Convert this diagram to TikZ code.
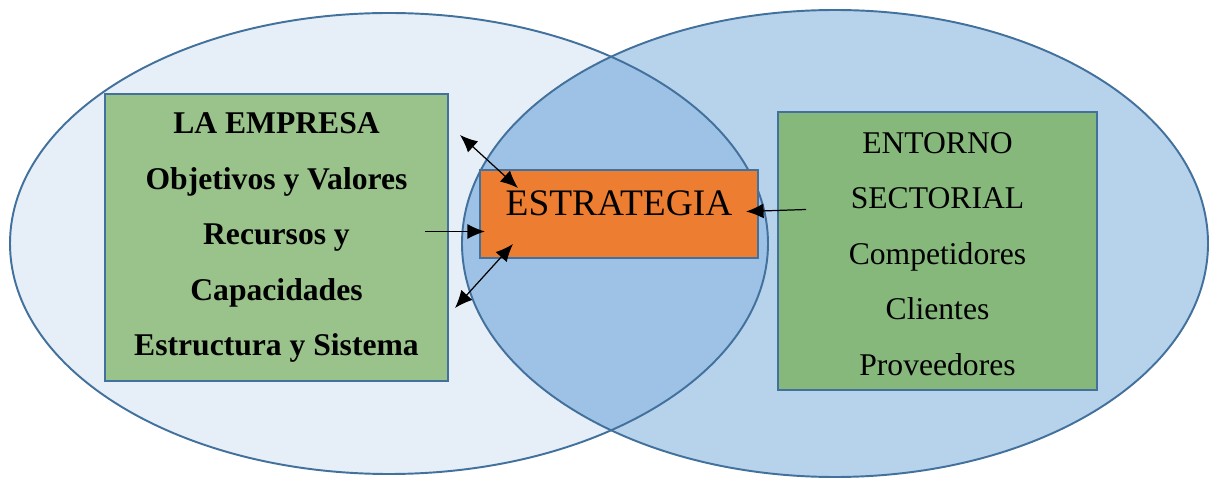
\documentclass[tikz,border=0pt]{standalone}
\usepackage{fontspec}
\setmainfont{Liberation Serif}
\usepackage{xcolor}
\usepackage{tikz}
\usetikzlibrary{arrows.meta}

\definecolor{elipseA}{HTML}{E6EEF7}
\definecolor{elipseB}{HTML}{B7D2EB}
\definecolor{cruce}{HTML}{9DC2E5}
\definecolor{borde}{HTML}{41719C}
\definecolor{verdeA}{HTML}{9AC38B}
\definecolor{verdeB}{HTML}{86B77B}
\definecolor{naranja}{HTML}{ED7D31}

\begin{document}
\begin{tikzpicture}[x=0.02cm,y=-0.02cm,
    caja/.style={draw=borde,line width=1pt,inner sep=0pt},
    texto/.style={font=\fontsize{18}{31.6}\selectfont,align=center,inner sep=0pt},
    flecha/.style={line width=0.7pt,-{Latex[length=10pt,width=8.5pt]}},
    doble/.style={line width=0.7pt,{Latex[length=10pt,width=8.5pt]}-{Latex[length=10pt,width=8.5pt]}}]
    \fill[white] (0,0) rectangle (1214,479);
    \useasboundingbox (0,0) rectangle (1214,479);
    % los dos ovalos
    \fill[elipseA] (389,243.5) ellipse [x radius=379, y radius=230.5];
    \fill[elipseB] (835,243.5) ellipse [x radius=373, y radius=233.5];
    \begin{scope}
      \clip (389,243.5) ellipse [x radius=379, y radius=230.5];
      \fill[cruce] (835,243.5) ellipse [x radius=373, y radius=233.5];
    \end{scope}
    \draw[borde,line width=1.1pt] (389,243.5) ellipse [x radius=379, y radius=230.5];
    \draw[borde,line width=1.1pt] (835,243.5) ellipse [x radius=373, y radius=233.5];
    % cajas
    \node[caja,fill=verdeA,minimum width=6.86cm,minimum height=5.74cm,
      texto,font=\fontsize{18}{31.6}\selectfont\bfseries]
      (empresa) at (276.5,237.5)
      {LA EMPRESA\\Objetivos y Valores\\Recursos y\\Capacidades\\Estructura y Sistema};
    \node[caja,fill=verdeB,minimum width=6.38cm,minimum height=5.56cm]
      (entorno) at (937.5,251) {};
    \node[texto] (entornotxt) at (937.5,254)
      {ENTORNO\\SECTORIAL\\Competidores\\Clientes\\Proveedores};
    \node[caja,fill=naranja,minimum width=5.56cm,minimum height=1.76cm]
      (estrategia) at (619,214) {};
    \node[inner sep=0pt,font=\fontsize{21.3}{25}\selectfont]
      (estrategiatxt) at (619,203.5) {ESTRATEGIA};
    % flechas
    \coordinate (a1) at (460,135);
    \coordinate (a2) at (518,188);
    \coordinate (b1) at (425,231.5);
    \coordinate (b2) at (485,231.5);
    \coordinate (c1) at (455,308);
    \coordinate (c2) at (513,244);
    \coordinate (d1) at (806,209.5);
    \coordinate (d2) at (746,211.5);
    \draw[doble] (a1) -- (a2);
    \draw[flecha] (b1) -- (b2);
    \draw[doble] (c1) -- (c2);
    \draw[flecha] (d1) -- (d2);
\end{tikzpicture}
\end{document}
